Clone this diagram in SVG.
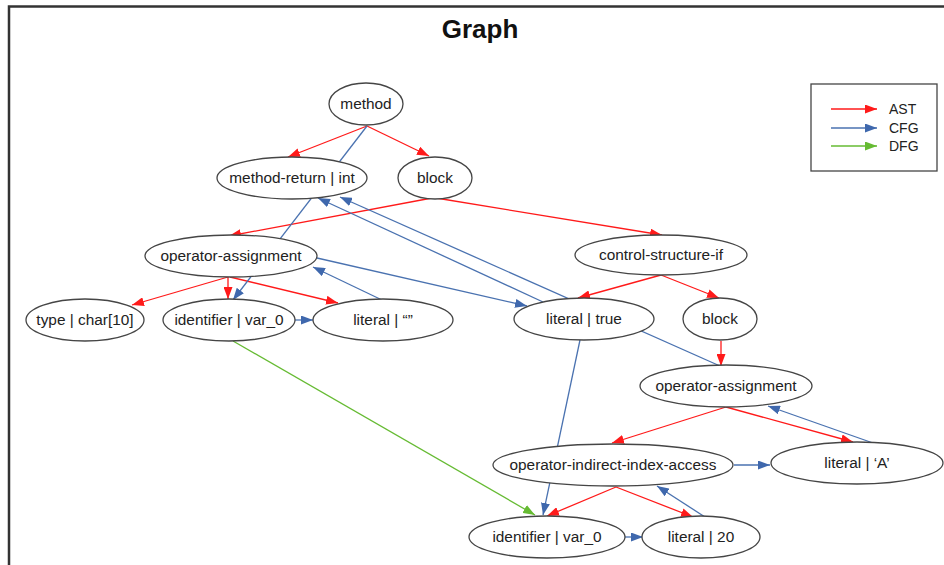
<svg xmlns="http://www.w3.org/2000/svg" width="944" height="565" viewBox="0 0 944 565">
<style>
.node ellipse{fill:#fff;stroke:#454545;stroke-width:1.3}
.node text,.lg text{font-family:"Liberation Sans",Arial,sans-serif;font-size:15.4px;fill:#222;text-anchor:middle}
.lg text{text-anchor:start;font-size:14px}
.e{fill:none;stroke-width:1.3}
.ast{stroke:#ff1a1a}
.cfg{stroke:#4a72b0}
.dfg{stroke:#66bb33}
</style>
<defs>
<marker id="ar" markerUnits="userSpaceOnUse" markerWidth="12" markerHeight="9" refX="12" refY="4.5" orient="auto"><path d="M0,0 L12,4.5 L0,9 z" fill="#ff1a1a"/></marker>
<marker id="ab" markerUnits="userSpaceOnUse" markerWidth="12" markerHeight="9" refX="12" refY="4.5" orient="auto"><path d="M0,0 L12,4.5 L0,9 z" fill="#3f68ad"/></marker>
<marker id="ag" markerUnits="userSpaceOnUse" markerWidth="12" markerHeight="9" refX="12" refY="4.5" orient="auto"><path d="M0,0 L12,4.5 L0,9 z" fill="#66bb33"/></marker>
</defs>
<rect width="944" height="565" fill="#fff"/>
<path d="M9,565 V6.5 H944" fill="none" stroke="#333" stroke-width="2.5"/>
<text x="480" y="38" font-family="Liberation Sans,Arial,sans-serif" font-size="26" font-weight="bold" text-anchor="middle" fill="#111">Graph</text>

<g id="connectors">
<!-- AST -->
<line class="e ast" x1="367" y1="126" x2="288" y2="157" marker-end="url(#ar)"/>
<line class="e ast" x1="367" y1="126" x2="429" y2="156" marker-end="url(#ar)"/>
<line class="e ast" x1="432" y1="198" x2="229" y2="236" marker-end="url(#ar)"/>
<line class="e ast" x1="436" y1="198" x2="662" y2="235" marker-end="url(#ar)"/>
<line class="e ast" x1="661" y1="275" x2="578" y2="298" marker-end="url(#ar)"/>
<line class="e ast" x1="661" y1="275" x2="719" y2="298" marker-end="url(#ar)"/>
<line class="e ast" x1="228" y1="277" x2="132" y2="305" marker-end="url(#ar)"/>
<line class="e ast" x1="228" y1="277" x2="228" y2="299" marker-end="url(#ar)"/>
<line class="e ast" x1="230" y1="277" x2="338" y2="303" marker-end="url(#ar)"/>
<line class="e ast" x1="721" y1="341" x2="721" y2="366" marker-end="url(#ar)"/>
<line class="e ast" x1="726" y1="407" x2="612" y2="443" marker-end="url(#ar)"/>
<line class="e ast" x1="726" y1="407" x2="853" y2="442" marker-end="url(#ar)"/>
<line class="e ast" x1="616" y1="487" x2="547" y2="516" marker-end="url(#ar)"/>
<line class="e ast" x1="616" y1="487" x2="693" y2="517" marker-end="url(#ar)"/>
<!-- CFG -->
<line class="e cfg" x1="367" y1="126" x2="233" y2="300" marker-end="url(#ab)"/>
<line class="e cfg" x1="295" y1="320" x2="313" y2="320" marker-end="url(#ab)"/>
<line class="e cfg" x1="382" y1="300" x2="313" y2="267" marker-end="url(#ab)"/>
<line class="e cfg" x1="317" y1="258" x2="527" y2="306" marker-end="url(#ab)"/>
<line class="e cfg" x1="543" y1="302" x2="318" y2="198" marker-end="url(#ab)"/>
<line class="e cfg" x1="720" y1="366" x2="340" y2="197" marker-end="url(#ab)"/>
<line class="e cfg" x1="580" y1="340" x2="543" y2="515" marker-end="url(#ab)"/>
<line class="e cfg" x1="873" y1="443" x2="768" y2="406" marker-end="url(#ab)"/>
<line class="e cfg" x1="734" y1="465" x2="770" y2="465" marker-end="url(#ab)"/>
<line class="e cfg" x1="705" y1="517" x2="657" y2="486" marker-end="url(#ab)"/>
<line class="e cfg" x1="624" y1="537" x2="643" y2="537" marker-end="url(#ab)"/>
<!-- DFG -->
<line class="e dfg" x1="233" y1="341" x2="535" y2="515" marker-end="url(#ag)"/>
</g>

<g id="n_method" class="node"><ellipse cx="366" cy="104" rx="37" ry="21"/><text x="366" y="109">method</text></g>
<g id="n_method_return" class="node"><ellipse cx="292" cy="178" rx="75" ry="21"/><text x="292" y="183">method-return | int</text></g>
<g id="n_block1" class="node"><ellipse cx="435" cy="178" rx="37" ry="21"/><text x="435" y="183">block</text></g>
<g id="n_opassign1" class="node"><ellipse cx="231" cy="256" rx="86" ry="21"/><text x="231" y="261">operator-assignment</text></g>
<g id="n_type" class="node"><ellipse cx="85" cy="320" rx="59" ry="21"/><text x="85" y="325">type | char[10]</text></g>
<g id="n_ident1" class="node"><ellipse cx="229" cy="320" rx="66" ry="21"/><text x="229" y="325">identifier | var_0</text></g>
<g id="n_literal_empty" class="node"><ellipse cx="383" cy="320" rx="70" ry="21"/><text x="383" y="325">literal | “”</text></g>
<g id="n_ctrl_if" class="node"><ellipse cx="661" cy="255" rx="86" ry="20"/><text x="661" y="260">control-structure-if</text></g>
<g id="n_literal_true" class="node"><ellipse cx="584" cy="319" rx="70" ry="21"/><text x="584" y="324">literal | true</text></g>
<g id="n_block2" class="node"><ellipse cx="720" cy="319" rx="37" ry="21"/><text x="720" y="324">block</text></g>
<g id="n_opassign2" class="node"><ellipse cx="726" cy="386" rx="86" ry="21"/><text x="726" y="391">operator-assignment</text></g>
<g id="n_literal_A" class="node"><ellipse cx="857" cy="463" rx="86" ry="21"/><text x="857" y="468">literal | ‘A’</text></g>
<g id="n_index_access" class="node"><ellipse cx="613" cy="465" rx="120" ry="21"/><text x="613" y="470">operator-indirect-index-access</text></g>
<g id="n_ident2" class="node"><ellipse cx="547" cy="537" rx="78" ry="21"/><text x="547" y="542">identifier | var_0</text></g>
<g id="n_literal_20" class="node"><ellipse cx="701" cy="537" rx="59" ry="21"/><text x="701" y="542">literal | 20</text></g>

<g id="legend" class="lg">
<rect x="811" y="84" width="126" height="87" fill="#fff" stroke="#454545" stroke-width="1.3"/>
<line class="e ast" x1="831" y1="109" x2="877" y2="109" marker-end="url(#ar)"/>
<line class="e cfg" x1="831" y1="128" x2="877" y2="128" marker-end="url(#ab)"/>
<line class="e dfg" x1="831" y1="146" x2="877" y2="146" marker-end="url(#ag)"/>
<text x="889" y="114">AST</text>
<text x="889" y="133">CFG</text>
<text x="889" y="151">DFG</text>
</g>
</svg>
